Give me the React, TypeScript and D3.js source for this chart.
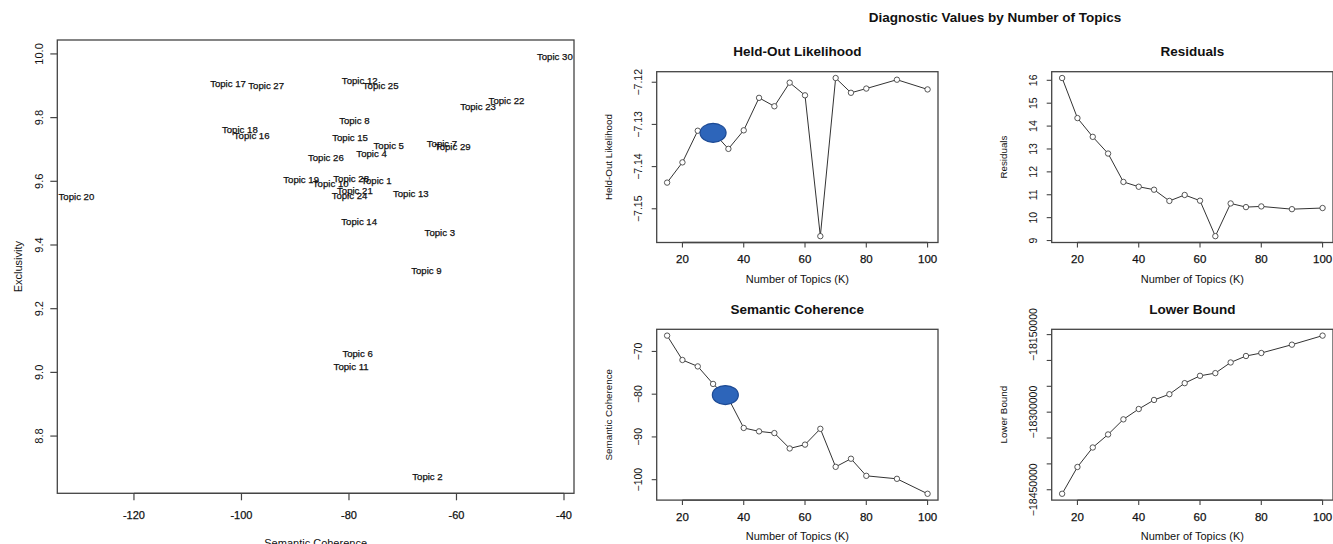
import React from 'react'
import * as d3 from 'd3'

const FONT = '"Liberation Sans", Arial, Helvetica, sans-serif'

// left: topic quality (semantic coherence vs exclusivity)
const topicNames = [
  'Topic 1', 'Topic 2', 'Topic 3', 'Topic 4', 'Topic 5', 'Topic 6', 'Topic 7', 'Topic 8', 'Topic 9', 'Topic 10',
  'Topic 11', 'Topic 12', 'Topic 13', 'Topic 14', 'Topic 15', 'Topic 16', 'Topic 17', 'Topic 18', 'Topic 19', 'Topic 20',
  'Topic 21', 'Topic 22', 'Topic 23', 'Topic 24', 'Topic 25', 'Topic 26', 'Topic 27', 'Topic 28', 'Topic 29', 'Topic 30'
]
const topicCoherence = [
  -74.9, -65.4, -63.1, -75.8, -72.6, -78.4, -62.7, -79.0, -65.6, -83.4,
  -79.6, -78.0, -68.5, -78.1, -79.8, -98.1, -102.5, -100.3, -88.9, -130.7,
  -78.9, -50.7, -56.0, -79.9, -74.1, -84.3, -95.4, -79.6, -60.7, -41.7
]
const topicExclusivity = [
  9.601, 8.673, 9.439, 9.687, 9.711, 9.060, 9.719, 9.791, 9.321, 9.594,
  9.018, 9.917, 9.561, 9.473, 9.737, 9.745, 9.907, 9.763, 9.604, 9.552,
  9.572, 9.854, 9.836, 9.556, 9.902, 9.676, 9.901, 9.608, 9.708, 9.991
]
const coherenceTicks = [-120, -100, -80, -60, -40]
const exclusivityTicks = [8.8, 9.0, 9.2, 9.4, 9.6, 9.8, 10.0]

// right: diagnostics by number of topics
const numTopics = [15, 20, 25, 30, 35, 40, 45, 50, 55, 60, 65, 70, 75, 80, 90, 100]
const heldOut = [-7.1438, -7.1390, -7.1315, -7.1318, -7.1358, -7.1314, -7.1237, -7.1257, -7.1201, -7.1231, -7.1565, -7.1190, -7.1225, -7.1215, -7.1194, -7.1217]
const residuals = [16.10, 14.35, 13.53, 12.80, 11.56, 11.35, 11.22, 10.73, 10.99, 10.74, 9.19, 10.62, 10.46, 10.49, 10.37, 10.42]
const semCoherence = [-66.3, -72.0, -73.5, -77.6, -81.0, -87.9, -88.7, -89.1, -92.7, -91.8, -88.1, -97.0, -95.1, -99.1, -99.8, -103.3]
const lowerBound = [-18457800, -18406000, -18368300, -18343100, -18313900, -18293900, -18276400, -18265300, -18243900, -18229700, -18224500, -18203900, -18191400, -18185600, -18169500, -18152000]

const kTicks = [20, 40, 60, 80, 100]
const heldOutTicks = [-7.15, -7.14, -7.13, -7.12]
const residualTicks = [9, 10, 11, 12, 13, 14, 15, 16]
const semTicks = [-100, -90, -80, -70]
const boundTicks = [-18450000, -18400000, -18350000, -18300000, -18250000, -18200000, -18150000]
const boundLabelled = [-18450000, -18300000, -18150000]

// blue markers drawn over the chosen K
const heldOutMark = { k: 30, value: -7.132 }
const semMark = { k: 34, value: -80.2 }

// R style axis range: data range plus 4% each side
const padded = (vals: number[]): [number, number] => {
  const [a, b] = d3.extent(vals) as [number, number]
  const d = (b - a) * 0.04
  return [a - d, b + d]
}

const BOX = '#444'
const INK = '#111'
// the reference text is a bit heavy/blurred, a hairline stroke gets close
const heavy = { fill: INK, stroke: INK, strokeWidth: 0.25 }

function ScatterPlot () {
  const left = 57.3, right = 574, top = 40, bottom = 493.3
  const x = d3.scaleLinear().domain(padded(topicCoherence)).range([left, right])
  const y = d3.scaleLinear().domain(padded(topicExclusivity)).range([bottom, top])

  return (
    <g>
      <rect x={left} y={top} width={right - left} height={bottom - top} fill='none' stroke={BOX} strokeWidth={1.3} />
      {/* x axis */}
      <line x1={x(coherenceTicks[0])} x2={x(coherenceTicks[coherenceTicks.length - 1])} y1={bottom} y2={bottom} stroke={BOX} strokeWidth={1.3} />
      {coherenceTicks.map(t => (
        <g key={t}>
          <line x1={x(t)} x2={x(t)} y1={bottom} y2={bottom + 7} stroke={BOX} strokeWidth={1.2} />
          <text x={x(t)} y={519} textAnchor='middle' fontSize={11} {...heavy}>{t}</text>
        </g>
      ))}
      {/* y axis */}
      {exclusivityTicks.map(t => (
        <g key={t}>
          <line x1={left - 7} x2={left} y1={y(t)} y2={y(t)} stroke={BOX} strokeWidth={1.2} />
          <text transform={`translate(${left - 14.5},${y(t)}) rotate(-90)`} textAnchor='middle' fontSize={11} fill={INK}>{t.toFixed(1)}</text>
        </g>
      ))}
      <text x={(left + right) / 2} y={547} textAnchor='middle' fontSize={11} fill={INK}>Semantic Coherence</text>
      <text transform={`translate(22,${(top + bottom) / 2}) rotate(-90)`} textAnchor='middle' fontSize={11} fill={INK}>Exclusivity</text>
      {topicNames.map((name, i) => (
        <text key={name} x={x(topicCoherence[i])} y={y(topicExclusivity[i])} dy='0.36em' textAnchor='middle' fontSize={9.6} {...heavy}>{name}</text>
      ))}
    </g>
  )
}

interface PanelProps {
  x0: number
  y0: number
  title: string
  ylab: string
  values: number[]
  yTicks: number[]
  yLabelled?: number[]
  mark?: { k: number, value: number }
}

function Panel ({ x0, y0, title, ylab, values, yTicks, yLabelled, mark }: PanelProps) {
  const w = 281.3, h = 170.8
  const x = d3.scaleLinear().domain(padded(numTopics)).range([x0, x0 + w])
  const y = d3.scaleLinear().domain(padded(values)).range([y0 + h, y0])
  const line = d3.line<number>().x((d, i) => x(numTopics[i])).y(d => y(d))
  const labelled = yLabelled || yTicks
  const bottom = y0 + h

  return (
    <g>
      <text x={x0 + w / 2} y={y0 - 15.5} textAnchor='middle' fontSize={13.5} fontWeight='bold' fill={INK}>{title}</text>
      <rect x={x0} y={y0} width={w} height={h} fill='none' stroke={BOX} strokeWidth={1.3} />
      {kTicks.map(t => (
        <g key={t}>
          <line x1={x(t)} x2={x(t)} y1={bottom} y2={bottom + 5} stroke={BOX} strokeWidth={1.1} />
          <text x={x(t)} y={bottom + 20.5} textAnchor='middle' fontSize={11.5} {...heavy}>{t}</text>
        </g>
      ))}
      <line x1={x(kTicks[0])} x2={x(kTicks[kTicks.length - 1])} y1={bottom} y2={bottom} stroke={BOX} strokeWidth={1.3} />
      {yTicks.map(t => (
        <g key={t}>
          <line x1={x0 - 5} x2={x0} y1={y(t)} y2={y(t)} stroke={BOX} strokeWidth={1.1} />
          {labelled.includes(t) && (
            <text transform={`translate(${x0 - 14.5},${y(t)}) rotate(-90)`} textAnchor='middle' fontSize={10.5} fill={INK}>{String(t).replace('-', '\u2212')}</text>
          )}
        </g>
      ))}
      <text x={x0 + w / 2} y={bottom + 40} textAnchor='middle' fontSize={11} fill={INK}>Number of Topics (K)</text>
      <text transform={`translate(${x0 - 45},${y0 + h / 2}) rotate(-90)`} textAnchor='middle' fontSize={9.8} fill={INK}>{ylab}</text>
      <path d={line(values) || ''} fill='none' stroke='#333' strokeWidth={1} />
      {values.map((v, i) => (
        <circle key={i} cx={x(numTopics[i])} cy={y(v)} r={2.7} fill='#fff' stroke='#444' strokeWidth={0.9} />
      ))}
      {mark && (
        <ellipse cx={x(mark.k)} cy={y(mark.value)} rx={13} ry={9.5} fill='#2d65ba' stroke='#1d4a94' strokeWidth={1.2} />
      )}
    </g>
  )
}

export default function App () {
  return (
    <svg width={1333} height={544} style={{ position: 'absolute', left: 0, top: 0, background: '#fff' }} fontFamily={FONT}>
      <rect width={1333} height={544} fill='#fff' />
      <ScatterPlot />
      <text x={995} y={22.3} textAnchor='middle' fontSize={13.5} fontWeight='bold' fill={INK}>Diagnostic Values by Number of Topics</text>
      <Panel x0={656.7} y0={71.7} title='Held-Out Likelihood' ylab='Held-Out Likelihood' values={heldOut} yTicks={heldOutTicks} mark={heldOutMark} />
      <Panel x0={1051.7} y0={71.7} title='Residuals' ylab='Residuals' values={residuals} yTicks={residualTicks} />
      <Panel x0={656.7} y0={329.3} title='Semantic Coherence' ylab='Semantic Coherence' values={semCoherence} yTicks={semTicks} mark={semMark} />
      <Panel x0={1051.7} y0={329.3} title='Lower Bound' ylab='Lower Bound' values={lowerBound} yTicks={boundTicks} yLabelled={boundLabelled} />
    </svg>
  )
}
